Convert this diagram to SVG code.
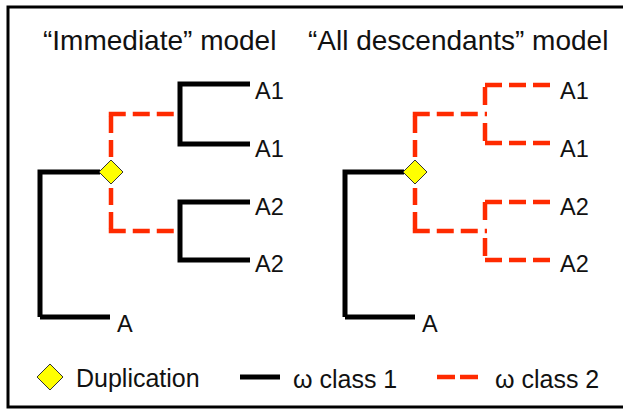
<svg xmlns="http://www.w3.org/2000/svg" width="623" height="412" viewBox="0 0 623 412">
<style>
  text { font-family: "Liberation Sans", Arial, sans-serif; fill: #111; }
  .title { font-size: 28px; }
  .lab { font-size: 23.5px; }
  .leg { font-size: 25px; }
  .c1 { fill: none; stroke: #000; stroke-width: 5; stroke-linejoin: miter; stroke-linecap: butt; }
  .c2 { fill: none; stroke: #ff2a00; stroke-width: 4.5; stroke-dasharray: 17 7; stroke-linecap: butt; }
  .dup { fill: #ffff00; stroke: #333; stroke-width: 1; }
</style>
<rect x="8" y="7" width="660" height="400" fill="#fff" stroke="#000" stroke-width="3"/>

<g id="tree-immediate">
  <text class="title" x="43" y="50">“Immediate” model</text>
  <g id="connectors-immediate">
    <path class="c1" d="M40 317 V172 H100"/>
    <path class="c1" d="M40 317 H110"/>
    <path class="c2" d="M111 116 V160"/>
    <path class="c2" d="M108.75 114 H180"/>
    <path class="c2" d="M111 229 V184"/>
    <path class="c2" d="M108.75 231 H180"/>
    <path class="c1" d="M250 84 H180 V144 H250"/>
    <path class="c1" d="M250 202 H180 V260 H250"/>
  </g>
  <g id="dup-immediate"><polygon class="dup" points="111,160 123,172 111,184 99,172"/></g>
  <g id="leaves-immediate">
    <text class="lab" x="255" y="99">A1</text>
    <text class="lab" x="255" y="157">A1</text>
    <text class="lab" x="255" y="215">A2</text>
    <text class="lab" x="255" y="272">A2</text>
    <text class="lab" x="117" y="332">A</text>
  </g>
</g>

<g id="tree-all">
  <text class="title" x="308" y="50">“All descendants” model</text>
  <g id="connectors-all">
    <path class="c1" d="M345 317 V172 H404"/>
    <path class="c1" d="M345 317 H415"/>
    <path class="c2" d="M415 116 V160"/>
    <path class="c2" d="M412.75 114 H487"/>
    <path class="c2" d="M415 229 V184"/>
    <path class="c2" d="M412.75 231 H487"/>
    <path class="c2" d="M485 87 V143" style="stroke-dasharray:18 18"/>
    <path class="c2" d="M485 85 H555"/>
    <path class="c2" d="M485 143 H555"/>
    <path class="c2" d="M485 202 V260" style="stroke-dasharray:18 18"/>
    <path class="c2" d="M485 202 H555"/>
    <path class="c2" d="M485 260 H555"/>
  </g>
  <g id="dup-all"><polygon class="dup" points="415,160 427,172 415,184 403,172"/></g>
  <g id="leaves-all">
    <text class="lab" x="560" y="99">A1</text>
    <text class="lab" x="560" y="157">A1</text>
    <text class="lab" x="560" y="215">A2</text>
    <text class="lab" x="560" y="272">A2</text>
    <text class="lab" x="422" y="332">A</text>
  </g>
</g>

<g id="legend">
  <polygon class="dup" points="50,364 63,377 50,390 37,377"/>
  <text class="leg" x="76" y="387">Duplication</text>
  <path class="c1" d="M240 377 H280"/>
  <text class="leg" x="293" y="388">ω class 1</text>
  <path class="c2" d="M437 377 H480" style="stroke-dasharray:18 5"/>
  <text class="leg" x="495" y="388">ω class 2</text>
</g>
</svg>
